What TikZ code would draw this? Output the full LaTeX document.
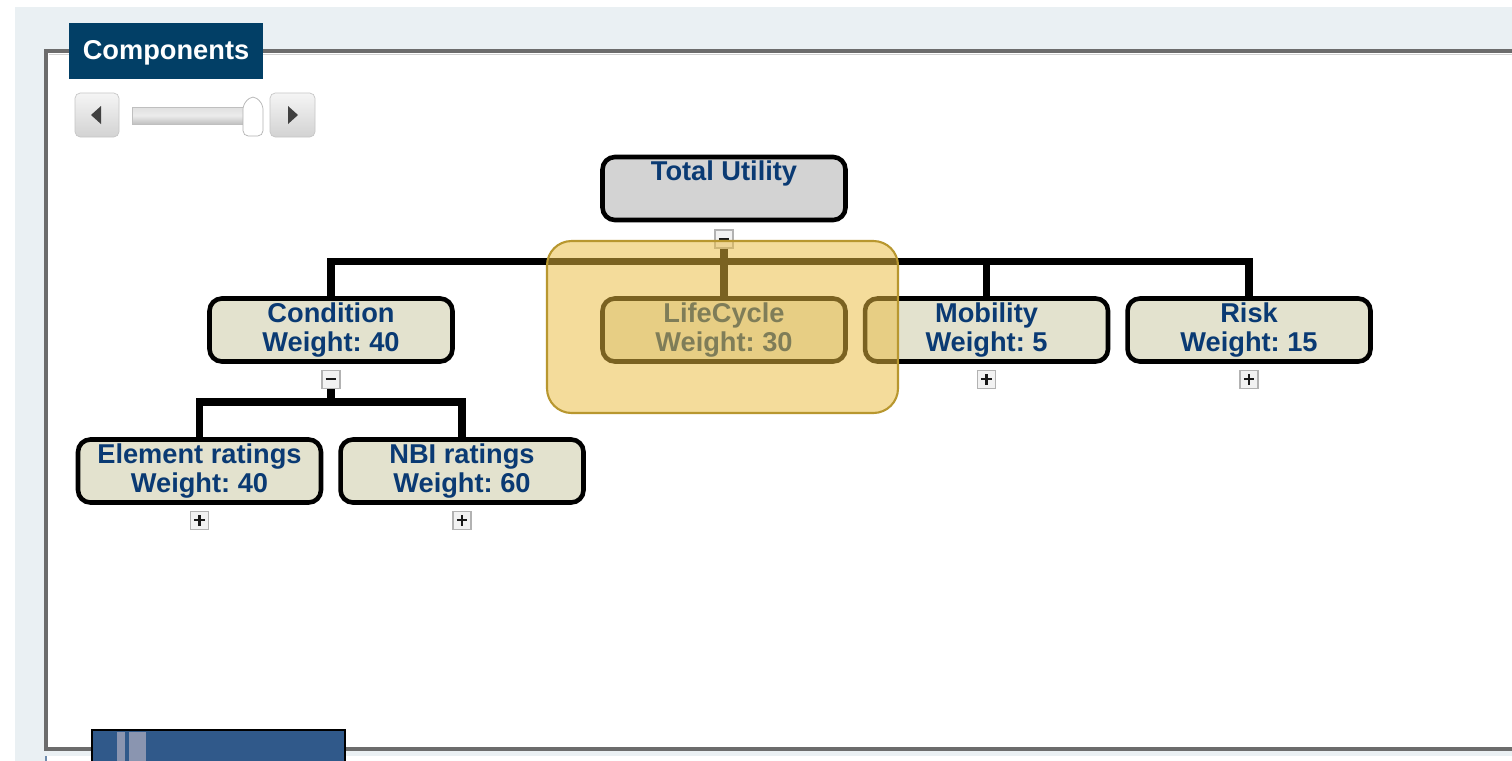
\documentclass[tikz,border=0pt]{standalone}
\usepackage{fontspec}
\setmainfont{Liberation Sans}
\frenchspacing
\usetikzlibrary{positioning,calc}
\definecolor{tabblue}{RGB}{2,63,102}
\definecolor{txtblue}{RGB}{10,58,115}
\definecolor{boxbeige}{RGB}{227,226,206}
\definecolor{boxgray}{RGB}{211,211,211}
\definecolor{panelbg}{RGB}{234,240,243}
\definecolor{framegray}{RGB}{108,108,108}
\definecolor{hlfill}{RGB}{235,188,65}
\definecolor{hldraw}{RGB}{184,151,47}
\definecolor{barblue}{RGB}{48,89,138}
\definecolor{stripe}{RGB}{138,149,176}
\tikzset{
  comp/.style={draw=black, line width=2.6pt, rounded corners=7pt, fill=boxbeige,
    minimum width=4.86cm, minimum height=1.26cm, inner sep=0pt, align=center,
    text=txtblue, font=\fontsize{15.5}{16.5}\selectfont\bfseries},
  toggle/.style={draw=gray!60, fill=gray!10, line width=0.7pt, minimum size=0.36cm, inner sep=0pt},
  minusbox/.style={toggle, path picture={
    \draw[line width=1.2pt, gray!20!black] ([xshift=-3pt]path picture bounding box.center) -- ([xshift=3pt]path picture bounding box.center);}},
  plusbox/.style={toggle, path picture={
    \draw[line width=1.2pt, gray!20!black] ([xshift=-3pt]path picture bounding box.center) -- ([xshift=3pt]path picture bounding box.center)
      ([yshift=-3pt]path picture bounding box.center) -- ([yshift=3pt]path picture bounding box.center);}},
  bar/.style={draw=black, line width=4.5pt, line join=miter},
  btn/.style={draw=gray!45, rounded corners=3pt, top color=gray!8, bottom color=gray!35}
}
\begin{document}
\begin{tikzpicture}[x=0.02cm, y=-0.02cm]
\useasboundingbox (0,0) rectangle (1512,761);
\clip (0,0) rectangle (1512,761);

% panel and frame
\fill[panelbg] (15,7) rectangle (1512,761);
\fill[white] (46,51) rectangle (1530,749);
\draw[framegray, line width=2.2pt] (46,51) rectangle (1530,749);
\draw[gray!35, line width=0.6pt] (49,54.5) -- (1530,54.5);
\fill[white] (46,756) rectangle (1512,761);
\draw[barblue!70, line width=0.6pt] (46,756) -- (46,761);

% tab
\node[fill=tabblue, minimum width=3.88cm, minimum height=1.12cm, inner sep=0pt] (tabc) at (166,51) {};
\node[anchor=base, text=white, font=\fontsize{15.5}{17}\selectfont\bfseries] (tabtxt) at (166,59) {Components};

% slider
\draw[btn] (75,93) rectangle (119,137);
\fill[gray!50!black] (101,106) -- (101,124) -- (91,115) -- cycle;
\draw[btn] (270,93) rectangle (315,137);
\fill[gray!50!black] (288,106) -- (288,124) -- (298,115) -- cycle;
\draw[gray!50, top color=gray!25, bottom color=gray!50, middle color=gray!15] (132,107) rectangle (246,124);
\draw[gray!60, fill=white, rounded corners=3pt] (243,104) -- (253,95) -- (263,104) -- (263,136) -- (243,136) -- cycle;

% tree
\node[comp, fill=boxgray] (tu) at (724,188.5) {Total Utility\\\phantom{Weight}};
\node[minusbox, below=0.14cm of tu] (tum) {};

\node[comp] (cond) at (331,330) {Condition\\Weight: 40};
\node[comp] (life) at (724,330) {LifeCycle\\Weight: 30};
\node[comp, right=0.3cm of life] (mob) {Mobility\\Weight: 5};
\node[comp, right=0.3cm of mob] (risk) {Risk\\Weight: 15};

\node[minusbox, below=0.12cm of cond] (condm) {};
\node[plusbox, below=0.12cm of mob] (mobp) {};
\node[plusbox, below=0.12cm of risk] (riskp) {};

\node[comp] (elem) at (199.5,471) {Element ratings\\Weight: 40};
\node[comp, right=0.3cm of elem] (nbi) {NBI ratings\\Weight: 60};
\node[plusbox, below=0.12cm of elem] (elemp) {};
\node[plusbox, below=0.12cm of nbi] (nbip) {};

\coordinate (tubus) at ($(tum.south)+(0,13)$);
\draw[bar] (tum.south) -- (tubus);
\foreach \c in {cond,life,mob,risk}
  \draw[bar] (tubus) -| (\c.north);

\coordinate (condbus) at ($(condm.south)+(0,13)$);
\draw[bar] (condm.south) -- (condbus);
\foreach \c in {elem,nbi}
  \draw[bar] (condbus) -| (\c.north);

% highlight over LifeCycle
\draw[hldraw, line width=1.2pt, fill=hlfill, fill opacity=0.52, rounded corners=14pt] (547,241) rectangle (898,413);

% bottom tab
\draw[black, fill=barblue, line width=0.6pt] (92,730) rectangle (345,770);
\fill[stripe] (117,732) rectangle (125,770);
\fill[stripe] (129,732) rectangle (146,770);
\end{tikzpicture}
\end{document}
